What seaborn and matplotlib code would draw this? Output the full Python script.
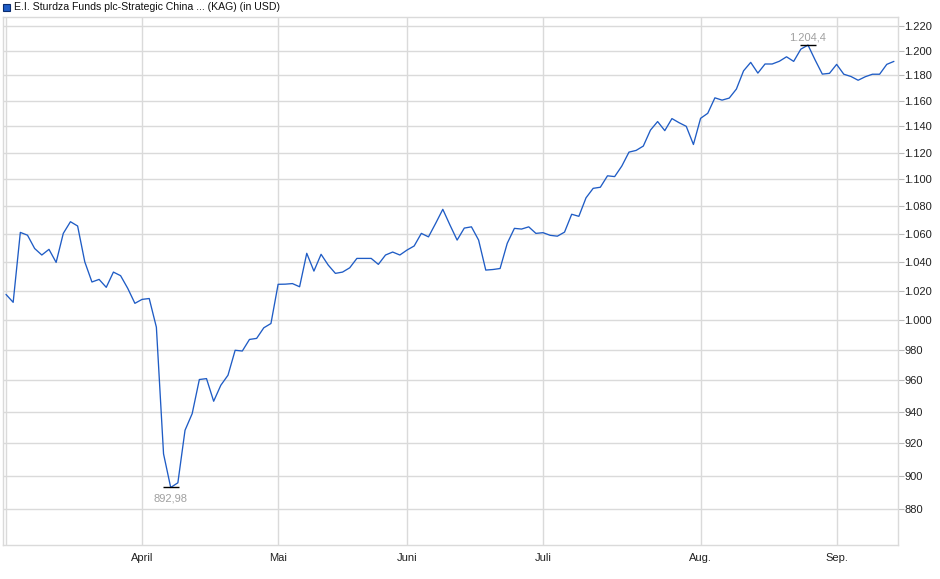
import matplotlib
matplotlib.use("Agg")
import matplotlib.pyplot as plt
import seaborn as sns
import numpy as np
import pandas as pd
from matplotlib.ticker import FixedLocator, FuncFormatter, NullLocator
from matplotlib.patches import Rectangle

# Data (one value per trading day)
prices = [
    1017.5, 1012.1, 1061.1, 1059.1, 1049.6, 1045.0, 1049.0, 1039.8, 1060.4, 1068.8,
    1065.7, 1040.2, 1026.1, 1027.9, 1022.4, 1033.0, 1030.5, 1021.7, 1011.4, 1014.1,
    1014.7, 995.2, 913.5, 892.98, 895.8, 928.2, 938.7, 960.6, 961.2, 946.6,
    956.9, 963.4, 979.8, 979.3, 987.0, 987.7, 994.8, 997.7, 1024.5, 1024.6,
    1025.0, 1022.8, 1046.2, 1033.7, 1045.5, 1037.9, 1032.1, 1033.0, 1036.0, 1042.6,
    1042.6, 1042.6, 1038.4, 1045.0, 1047.1, 1045.0, 1048.5, 1051.4, 1060.4, 1057.9,
    1067.6, 1077.8, 1066.4, 1055.6, 1064.2, 1065.1, 1055.6, 1034.4, 1034.8, 1035.5,
    1053.3, 1064.0, 1063.5, 1065.1, 1060.4, 1060.9, 1059.0, 1058.4, 1061.3, 1074.2,
    1072.7, 1086.2, 1093.2, 1094.0, 1102.5, 1101.9, 1109.8, 1120.3, 1121.6, 1124.9,
    1137.1, 1143.7, 1136.7, 1146.0, 1142.8, 1140.0, 1126.1, 1146.2, 1150.1, 1162.2,
    1160.4, 1162.0, 1169.1, 1183.6, 1190.4, 1181.8, 1189.1, 1189.1, 1191.3, 1194.9,
    1191.2, 1201.1, 1204.4, 1192.3, 1181.0, 1181.6, 1188.8, 1180.9, 1179.1, 1176.1,
    1178.9, 1180.9, 1180.9, 1188.8, 1191.2,
]
month_pos = [0, 19, 38, 56, 75, 97, 116]
month_labels = ["", "April", "Mai", "Juni", "Juli", "Aug.", "Sep."]
y_ticks = list(range(880, 1221, 20))
series_name = "E.I. Sturdza Funds plc-Strategic China ... (KAG) (in USD)"

df = pd.DataFrame({"day": np.arange(len(prices)), "price": prices})

sns.set_style("white")
plt.rcParams["font.family"] = ["Liberation Sans", "DejaVu Sans"]

line_color = "#1f5cc5"
grid_color = "#dadada"

fig = plt.figure(figsize=(9.4, 5.79), dpi=100)
ax = fig.add_axes([3 / 940, 1 - 545 / 579, 894.5 / 940, 528 / 579])

sns.lineplot(data=df, x="day", y="price", ax=ax, color=line_color, linewidth=0.95)

ax.set_yscale("log")
ax.set_ylim(858.9, 1227.5)
ax.set_xlim(-0.42, 124.5)

de_fmt = lambda v, pos: f"{v:,.0f}".replace(",", ".")
ax.yaxis.set_major_locator(FixedLocator(y_ticks))
ax.yaxis.set_major_formatter(FuncFormatter(de_fmt))
ax.yaxis.set_minor_locator(NullLocator())
ax.yaxis.tick_right()
ax.xaxis.set_major_locator(FixedLocator(month_pos))
ax.set_xticklabels(month_labels)
ax.xaxis.set_minor_locator(NullLocator())

ax.grid(True, color=grid_color, linewidth=1)
ax.set_axisbelow(True)
for sp in ax.spines.values():
    sp.set_color(grid_color)
    sp.set_linewidth(1)
ax.tick_params(axis="y", which="major", direction="out", length=4, width=0.8,
               color="#bbbbbb", labelsize=8, pad=1, labelcolor="#222222")
ax.tick_params(axis="x", which="major", direction="out", length=3, width=0.8,
               color="#bbbbbb", labelsize=8, pad=3, labelcolor="#222222")
ax.set_xlabel("")
ax.set_ylabel("")

# min / max markers
i_min = int(np.argmin(prices))
i_max = int(np.argmax(prices))
ax.plot(i_min, prices[i_min], marker="_", ms=11, mew=1.0, color="black")
ax.plot(i_max, prices[i_max], marker="_", ms=11, mew=1.0, color="black")
ax.annotate(f"{prices[i_min]:.2f}".replace(".", ","), (i_min, prices[i_min]),
            xytext=(0, -4), textcoords="offset points", ha="center", va="top",
            fontsize=8, color="#a0a0a0")
ax.annotate(de_fmt(prices[i_max], 0).split(".")[0] + "." + f"{prices[i_max]:.1f}"[1:].replace(".", ","),
            (i_max, prices[i_max]), xytext=(0, 2), textcoords="offset points",
            ha="center", va="bottom", fontsize=8, color="#a0a0a0")

# legend-like title
fig.patches.append(Rectangle((3 / 940, 1 - 11 / 579), 7 / 940, 7 / 579,
                             transform=fig.transFigure, facecolor=line_color,
                             edgecolor="#0b2c6e", linewidth=0.8))
fig.text(14 / 940, 1 - 6.5 / 579, series_name, fontsize=7.6, va="center",
         ha="left", color="#111111")

fig.savefig("out.png", dpi=100)
